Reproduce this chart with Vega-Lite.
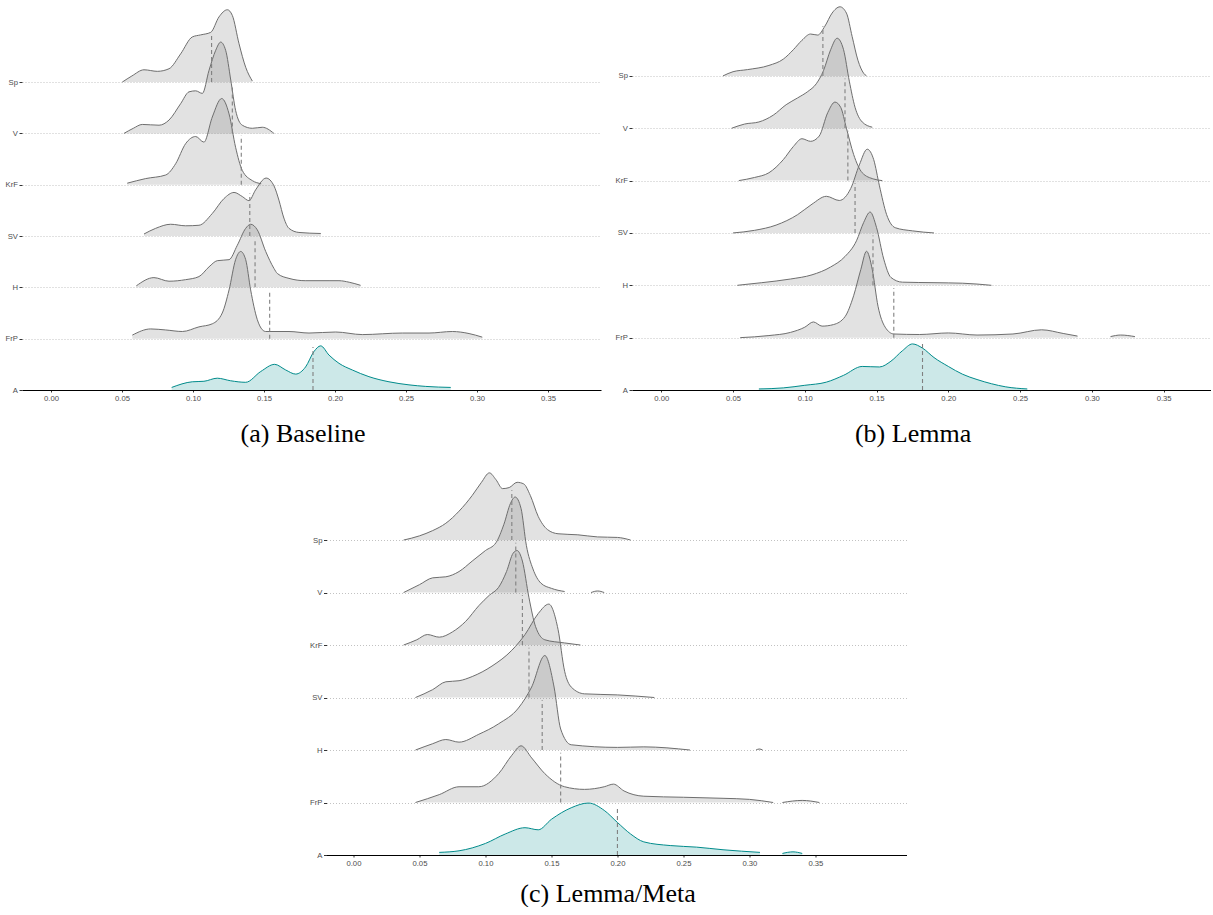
{
"$schema": "https://vega.github.io/schema/vega-lite/v6.json",
"background": "white",
"padding": {"left": 5, "top": 0, "right": 0, "bottom": 0},
"config": {"view": {"stroke": null}},
"datasets": {
"lv": [{"g":"A","b":1},{"g":"FrP","b":2},{"g":"H","b":3},{"g":"SV","b":4},{"g":"KrF","b":5},{"g":"V","b":6},{"g":"Sp","b":7}],
"m": [
{"p":"a","g":"Sp","x":0.1131,"t":7.94},{"p":"a","g":"V","x":0.1277,"t":6.94},{"p":"a","g":"KrF","x":0.134,"t":5.96},{"p":"a","g":"SV","x":0.140,"t":4.83},{"p":"a","g":"H","x":0.1437,"t":3.95},{"p":"a","g":"FrP","x":0.154,"t":2.95},{"p":"a","g":"A","x":0.1845,"t":1.84},
{"p":"b","g":"Sp","x":0.1126,"t":7.95},{"p":"b","g":"V","x":0.128,"t":6.95},{"p":"b","g":"KrF","x":0.130,"t":5.95},{"p":"b","g":"SV","x":0.135,"t":4.95},{"p":"b","g":"H","x":0.1475,"t":3.95},{"p":"b","g":"FrP","x":0.162,"t":2.95},{"p":"b","g":"A","x":0.182,"t":1.88},
{"p":"c","g":"Sp","x":0.12,"t":7.95},{"p":"c","g":"V","x":0.123,"t":6.95},{"p":"c","g":"KrF","x":0.128,"t":5.95},{"p":"c","g":"SV","x":0.133,"t":4.95},{"p":"c","g":"H","x":0.143,"t":3.95},{"p":"c","g":"FrP","x":0.157,"t":2.95},{"p":"c","g":"A","x":0.2,"t":1.9}
],
"a": [
{"g":"Sp","x":0.0502,"y":7.0},{"g":"Sp","x":0.057,"y":7.12},{"g":"Sp","x":0.0655,"y":7.24},{"g":"Sp","x":0.0749,"y":7.21},{"g":"Sp","x":0.0831,"y":7.26},{"g":"Sp","x":0.0913,"y":7.55},{"g":"Sp","x":0.0995,"y":7.88},{"g":"Sp","x":0.1054,"y":7.92},{"g":"Sp","x":0.1125,"y":7.97},{"g":"Sp","x":0.1183,"y":8.27},{"g":"Sp","x":0.1242,"y":8.41},{"g":"Sp","x":0.1277,"y":8.30},{"g":"Sp","x":0.1324,"y":7.75},{"g":"Sp","x":0.1371,"y":7.29},{"g":"Sp","x":0.1418,"y":7.02},
{"g":"V","x":0.0514,"y":6.0},{"g":"V","x":0.058,"y":6.1},{"g":"V","x":0.0643,"y":6.175},{"g":"V","x":0.0761,"y":6.16},{"g":"V","x":0.0831,"y":6.26},{"g":"V","x":0.0913,"y":6.58},{"g":"V","x":0.0972,"y":6.81},{"g":"V","x":0.1019,"y":6.83},{"g":"V","x":0.1066,"y":6.78},{"g":"V","x":0.1113,"y":7.23},{"g":"V","x":0.116,"y":7.62},{"g":"V","x":0.1195,"y":7.78},{"g":"V","x":0.123,"y":7.62},{"g":"V","x":0.1266,"y":7.04},{"g":"V","x":0.130,"y":6.45},{"g":"V","x":0.1347,"y":6.16},{"g":"V","x":0.1418,"y":6.10},{"g":"V","x":0.1488,"y":6.12},{"g":"V","x":0.157,"y":6.0},
{"g":"KrF","x":0.0537,"y":5.03},{"g":"KrF","x":0.0667,"y":5.12},{"g":"KrF","x":0.0808,"y":5.19},{"g":"KrF","x":0.0878,"y":5.41},{"g":"KrF","x":0.0948,"y":5.80},{"g":"KrF","x":0.1019,"y":5.94},{"g":"KrF","x":0.1077,"y":5.83},{"g":"KrF","x":0.1136,"y":6.32},{"g":"KrF","x":0.1202,"y":6.68},{"g":"KrF","x":0.1254,"y":6.38},{"g":"KrF","x":0.130,"y":5.73},{"g":"KrF","x":0.1347,"y":5.28},{"g":"KrF","x":0.1418,"y":5.08},{"g":"KrF","x":0.148,"y":5.02},
{"g":"SV","x":0.0655,"y":4.04},{"g":"SV","x":0.0737,"y":4.15},{"g":"SV","x":0.0843,"y":4.23},{"g":"SV","x":0.0948,"y":4.2},{"g":"SV","x":0.1042,"y":4.21},{"g":"SV","x":0.1136,"y":4.44},{"g":"SV","x":0.1218,"y":4.73},{"g":"SV","x":0.1289,"y":4.85},{"g":"SV","x":0.1347,"y":4.77},{"g":"SV","x":0.1394,"y":4.69},{"g":"SV","x":0.1441,"y":4.90},{"g":"SV","x":0.1515,"y":5.13},{"g":"SV","x":0.157,"y":4.98},{"g":"SV","x":0.1605,"y":4.7},{"g":"SV","x":0.164,"y":4.35},{"g":"SV","x":0.1676,"y":4.15},{"g":"SV","x":0.1746,"y":4.07},{"g":"SV","x":0.19,"y":4.05},
{"g":"H","x":0.0601,"y":3.03},{"g":"H","x":0.0725,"y":3.19},{"g":"H","x":0.0831,"y":3.12},{"g":"H","x":0.0948,"y":3.15},{"g":"H","x":0.1042,"y":3.21},{"g":"H","x":0.1113,"y":3.40},{"g":"H","x":0.1171,"y":3.52},{"g":"H","x":0.1254,"y":3.54},{"g":"H","x":0.1312,"y":3.82},{"g":"H","x":0.1371,"y":4.15},{"g":"H","x":0.1406,"y":4.23},{"g":"H","x":0.1453,"y":4.12},{"g":"H","x":0.1512,"y":3.70},{"g":"H","x":0.157,"y":3.37},{"g":"H","x":0.1594,"y":3.27},{"g":"H","x":0.1676,"y":3.175},{"g":"H","x":0.179,"y":3.13},{"g":"H","x":0.1958,"y":3.13},{"g":"H","x":0.2028,"y":3.13},{"g":"H","x":0.21,"y":3.1},{"g":"H","x":0.218,"y":3.04},
{"g":"FrP","x":0.0573,"y":2.07},{"g":"FrP","x":0.0702,"y":2.19},{"g":"FrP","x":0.0808,"y":2.17},{"g":"FrP","x":0.0925,"y":2.14},{"g":"FrP","x":0.1042,"y":2.23},{"g":"FrP","x":0.1136,"y":2.29},{"g":"FrP","x":0.1206,"y":2.50},{"g":"FrP","x":0.1254,"y":2.95},{"g":"FrP","x":0.130,"y":3.54},{"g":"FrP","x":0.1336,"y":3.70},{"g":"FrP","x":0.1371,"y":3.54},{"g":"FrP","x":0.1406,"y":2.95},{"g":"FrP","x":0.1453,"y":2.37},{"g":"FrP","x":0.1488,"y":2.175},{"g":"FrP","x":0.1512,"y":2.14},{"g":"FrP","x":0.1676,"y":2.14},{"g":"FrP","x":0.1817,"y":2.11},{"g":"FrP","x":0.2005,"y":2.13},{"g":"FrP","x":0.2192,"y":2.08},{"g":"FrP","x":0.2474,"y":2.11},{"g":"FrP","x":0.2662,"y":2.11},{"g":"FrP","x":0.2826,"y":2.14},{"g":"FrP","x":0.2944,"y":2.10},{"g":"FrP","x":0.3037,"y":2.03},
{"g":"A","x":0.085,"y":1.05},{"g":"A","x":0.0995,"y":1.16},{"g":"A","x":0.1077,"y":1.17},{"g":"A","x":0.1171,"y":1.23},{"g":"A","x":0.1265,"y":1.18},{"g":"A","x":0.1371,"y":1.15},{"g":"A","x":0.1477,"y":1.36},{"g":"A","x":0.1575,"y":1.50},{"g":"A","x":0.1653,"y":1.39},{"g":"A","x":0.1723,"y":1.31},{"g":"A","x":0.1793,"y":1.45},{"g":"A","x":0.1852,"y":1.75},{"g":"A","x":0.1899,"y":1.86},{"g":"A","x":0.1958,"y":1.68},{"g":"A","x":0.2028,"y":1.52},{"g":"A","x":0.2122,"y":1.39},{"g":"A","x":0.2239,"y":1.26},{"g":"A","x":0.238,"y":1.16},{"g":"A","x":0.2521,"y":1.10},{"g":"A","x":0.2639,"y":1.07},{"g":"A","x":0.2815,"y":1.05}
],
"b": [
{"g":"Sp","x":0.043,"y":7.0},{"g":"Sp","x":0.05,"y":7.08},{"g":"Sp","x":0.06,"y":7.12},{"g":"Sp","x":0.075,"y":7.2},{"g":"Sp","x":0.085,"y":7.32},{"g":"Sp","x":0.092,"y":7.5},{"g":"Sp","x":0.098,"y":7.68},{"g":"Sp","x":0.104,"y":7.8},{"g":"Sp","x":0.109,"y":7.78},{"g":"Sp","x":0.114,"y":7.95},{"g":"Sp","x":0.119,"y":8.2},{"g":"Sp","x":0.1245,"y":8.32},{"g":"Sp","x":0.129,"y":8.2},{"g":"Sp","x":0.133,"y":7.75},{"g":"Sp","x":0.137,"y":7.3},{"g":"Sp","x":0.141,"y":7.05},{"g":"Sp","x":0.143,"y":7.0},
{"g":"V","x":0.049,"y":6.0},{"g":"V","x":0.058,"y":6.08},{"g":"V","x":0.068,"y":6.12},{"g":"V","x":0.078,"y":6.25},{"g":"V","x":0.087,"y":6.45},{"g":"V","x":0.095,"y":6.58},{"g":"V","x":0.102,"y":6.7},{"g":"V","x":0.108,"y":6.85},{"g":"V","x":0.113,"y":7.1},{"g":"V","x":0.118,"y":7.5},{"g":"V","x":0.1225,"y":7.72},{"g":"V","x":0.127,"y":7.5},{"g":"V","x":0.131,"y":6.9},{"g":"V","x":0.135,"y":6.4},{"g":"V","x":0.14,"y":6.12},{"g":"V","x":0.147,"y":6.02},
{"g":"KrF","x":0.054,"y":5.0},{"g":"KrF","x":0.065,"y":5.06},{"g":"KrF","x":0.075,"y":5.15},{"g":"KrF","x":0.085,"y":5.4},{"g":"KrF","x":0.092,"y":5.65},{"g":"KrF","x":0.098,"y":5.8},{"g":"KrF","x":0.104,"y":5.75},{"g":"KrF","x":0.11,"y":5.85},{"g":"KrF","x":0.116,"y":6.3},{"g":"KrF","x":0.121,"y":6.5},{"g":"KrF","x":0.125,"y":6.4},{"g":"KrF","x":0.129,"y":6.0},{"g":"KrF","x":0.134,"y":5.5},{"g":"KrF","x":0.14,"y":5.15},{"g":"KrF","x":0.148,"y":5.03},{"g":"KrF","x":0.154,"y":5.0},
{"g":"SV","x":0.05,"y":4.0},{"g":"SV","x":0.065,"y":4.05},{"g":"SV","x":0.08,"y":4.15},{"g":"SV","x":0.095,"y":4.35},{"g":"SV","x":0.105,"y":4.55},{"g":"SV","x":0.115,"y":4.7},{"g":"SV","x":0.124,"y":4.62},{"g":"SV","x":0.132,"y":4.85},{"g":"SV","x":0.138,"y":5.3},{"g":"SV","x":0.1435,"y":5.6},{"g":"SV","x":0.148,"y":5.4},{"g":"SV","x":0.152,"y":4.9},{"g":"SV","x":0.157,"y":4.35},{"g":"SV","x":0.163,"y":4.1},{"g":"SV","x":0.175,"y":4.04},{"g":"SV","x":0.19,"y":4.0},
{"g":"H","x":0.053,"y":3.0},{"g":"H","x":0.07,"y":3.05},{"g":"H","x":0.09,"y":3.12},{"g":"H","x":0.105,"y":3.2},{"g":"H","x":0.118,"y":3.35},{"g":"H","x":0.128,"y":3.55},{"g":"H","x":0.136,"y":3.85},{"g":"H","x":0.141,"y":4.2},{"g":"H","x":0.1455,"y":4.4},{"g":"H","x":0.15,"y":4.1},{"g":"H","x":0.155,"y":3.5},{"g":"H","x":0.16,"y":3.15},{"g":"H","x":0.168,"y":3.06},{"g":"H","x":0.19,"y":3.05},{"g":"H","x":0.21,"y":3.04},{"g":"H","x":0.23,"y":3.0},
{"g":"FrP","x":0.055,"y":2.0},{"g":"FrP","x":0.075,"y":2.04},{"g":"FrP","x":0.09,"y":2.1},{"g":"FrP","x":0.1,"y":2.2},{"g":"FrP","x":0.106,"y":2.3},{"g":"FrP","x":0.112,"y":2.22},{"g":"FrP","x":0.12,"y":2.25},{"g":"FrP","x":0.128,"y":2.4},{"g":"FrP","x":0.134,"y":2.8},{"g":"FrP","x":0.139,"y":3.3},{"g":"FrP","x":0.143,"y":3.65},{"g":"FrP","x":0.147,"y":3.3},{"g":"FrP","x":0.151,"y":2.6},{"g":"FrP","x":0.156,"y":2.2},{"g":"FrP","x":0.162,"y":2.07},{"g":"FrP","x":0.18,"y":2.06},{"g":"FrP","x":0.2,"y":2.09},{"g":"FrP","x":0.22,"y":2.05},{"g":"FrP","x":0.245,"y":2.07},{"g":"FrP","x":0.265,"y":2.15},{"g":"FrP","x":0.28,"y":2.08},{"g":"FrP","x":0.29,"y":2.03},
{"g":"FrP","s":"2","x":0.313,"y":2.02},{"g":"FrP","s":"2","x":0.32,"y":2.05},{"g":"FrP","s":"2","x":0.33,"y":2.02},
{"g":"A","x":0.068,"y":1.02},{"g":"A","x":0.085,"y":1.04},{"g":"A","x":0.1,"y":1.09},{"g":"A","x":0.115,"y":1.15},{"g":"A","x":0.127,"y":1.28},{"g":"A","x":0.14,"y":1.45},{"g":"A","x":0.152,"y":1.44},{"g":"A","x":0.16,"y":1.55},{"g":"A","x":0.168,"y":1.75},{"g":"A","x":0.175,"y":1.88},{"g":"A","x":0.182,"y":1.8},{"g":"A","x":0.19,"y":1.62},{"g":"A","x":0.2,"y":1.45},{"g":"A","x":0.21,"y":1.3},{"g":"A","x":0.22,"y":1.2},{"g":"A","x":0.23,"y":1.12},{"g":"A","x":0.24,"y":1.06},{"g":"A","x":0.255,"y":1.02}
],
"c": [
{"g":"Sp","x":0.038,"y":7.0},{"g":"Sp","x":0.05,"y":7.08},{"g":"Sp","x":0.06,"y":7.18},{"g":"Sp","x":0.07,"y":7.32},{"g":"Sp","x":0.08,"y":7.55},{"g":"Sp","x":0.09,"y":7.85},{"g":"Sp","x":0.097,"y":8.1},{"g":"Sp","x":0.103,"y":8.28},{"g":"Sp","x":0.108,"y":8.15},{"g":"Sp","x":0.113,"y":7.98},{"g":"Sp","x":0.118,"y":8.0},{"g":"Sp","x":0.124,"y":8.1},{"g":"Sp","x":0.129,"y":8.07},{"g":"Sp","x":0.134,"y":7.85},{"g":"Sp","x":0.14,"y":7.45},{"g":"Sp","x":0.147,"y":7.2},{"g":"Sp","x":0.155,"y":7.12},{"g":"Sp","x":0.17,"y":7.1},{"g":"Sp","x":0.185,"y":7.06},{"g":"Sp","x":0.2,"y":7.05},{"g":"Sp","x":0.21,"y":7.0},
{"g":"V","x":0.038,"y":6.0},{"g":"V","x":0.05,"y":6.15},{"g":"V","x":0.06,"y":6.28},{"g":"V","x":0.07,"y":6.3},{"g":"V","x":0.08,"y":6.4},{"g":"V","x":0.09,"y":6.6},{"g":"V","x":0.1,"y":6.8},{"g":"V","x":0.108,"y":6.95},{"g":"V","x":0.114,"y":7.3},{"g":"V","x":0.119,"y":7.7},{"g":"V","x":0.1225,"y":7.82},{"g":"V","x":0.127,"y":7.6},{"g":"V","x":0.131,"y":6.9},{"g":"V","x":0.136,"y":6.45},{"g":"V","x":0.142,"y":6.18},{"g":"V","x":0.15,"y":6.08},{"g":"V","x":0.16,"y":6.02},
{"g":"V","s":"2","x":0.18,"y":6.0},{"g":"V","s":"2","x":0.185,"y":6.03},{"g":"V","s":"2","x":0.19,"y":6.0},
{"g":"KrF","x":0.038,"y":5.0},{"g":"KrF","x":0.048,"y":5.1},{"g":"KrF","x":0.056,"y":5.2},{"g":"KrF","x":0.065,"y":5.15},{"g":"KrF","x":0.075,"y":5.25},{"g":"KrF","x":0.085,"y":5.45},{"g":"KrF","x":0.095,"y":5.75},{"g":"KrF","x":0.103,"y":5.95},{"g":"KrF","x":0.11,"y":6.1},{"g":"KrF","x":0.116,"y":6.4},{"g":"KrF","x":0.121,"y":6.75},{"g":"KrF","x":0.124,"y":6.8},{"g":"KrF","x":0.128,"y":6.6},{"g":"KrF","x":0.133,"y":5.9},{"g":"KrF","x":0.138,"y":5.35},{"g":"KrF","x":0.145,"y":5.1},{"g":"KrF","x":0.16,"y":5.04},{"g":"KrF","x":0.172,"y":5.0},
{"g":"SV","x":0.047,"y":4.0},{"g":"SV","x":0.06,"y":4.15},{"g":"SV","x":0.07,"y":4.3},{"g":"SV","x":0.08,"y":4.32},{"g":"SV","x":0.09,"y":4.4},{"g":"SV","x":0.105,"y":4.6},{"g":"SV","x":0.12,"y":4.9},{"g":"SV","x":0.13,"y":5.2},{"g":"SV","x":0.14,"y":5.6},{"g":"SV","x":0.148,"y":5.78},{"g":"SV","x":0.155,"y":5.3},{"g":"SV","x":0.16,"y":4.5},{"g":"SV","x":0.165,"y":4.2},{"g":"SV","x":0.175,"y":4.07},{"g":"SV","x":0.2,"y":4.05},{"g":"SV","x":0.228,"y":4.0},
{"g":"H","x":0.047,"y":3.0},{"g":"H","x":0.06,"y":3.12},{"g":"H","x":0.07,"y":3.2},{"g":"H","x":0.08,"y":3.15},{"g":"H","x":0.095,"y":3.3},{"g":"H","x":0.11,"y":3.5},{"g":"H","x":0.125,"y":3.8},{"g":"H","x":0.135,"y":4.2},{"g":"H","x":0.145,"y":4.8},{"g":"H","x":0.152,"y":4.2},{"g":"H","x":0.157,"y":3.4},{"g":"H","x":0.165,"y":3.1},{"g":"H","x":0.2,"y":3.05},{"g":"H","x":0.22,"y":3.06},{"g":"H","x":0.255,"y":3.0},
{"g":"H","s":"2","x":0.305,"y":3.0},{"g":"H","s":"2","x":0.3075,"y":3.02},{"g":"H","s":"2","x":0.31,"y":3.0},
{"g":"FrP","x":0.047,"y":2.0},{"g":"FrP","x":0.065,"y":2.15},{"g":"FrP","x":0.08,"y":2.3},{"g":"FrP","x":0.095,"y":2.3},{"g":"FrP","x":0.11,"y":2.55},{"g":"FrP","x":0.12,"y":2.9},{"g":"FrP","x":0.127,"y":3.08},{"g":"FrP","x":0.135,"y":2.85},{"g":"FrP","x":0.145,"y":2.55},{"g":"FrP","x":0.16,"y":2.3},{"g":"FrP","x":0.175,"y":2.25},{"g":"FrP","x":0.19,"y":2.3},{"g":"FrP","x":0.197,"y":2.35},{"g":"FrP","x":0.205,"y":2.22},{"g":"FrP","x":0.22,"y":2.12},{"g":"FrP","x":0.25,"y":2.1},{"g":"FrP","x":0.28,"y":2.08},{"g":"FrP","x":0.3,"y":2.06},{"g":"FrP","x":0.318,"y":2.0},
{"g":"FrP","s":"2","x":0.325,"y":2.0},{"g":"FrP","s":"2","x":0.34,"y":2.04},{"g":"FrP","s":"2","x":0.353,"y":2.0},
{"g":"A","x":0.065,"y":1.05},{"g":"A","x":0.08,"y":1.08},{"g":"A","x":0.1,"y":1.22},{"g":"A","x":0.115,"y":1.4},{"g":"A","x":0.13,"y":1.52},{"g":"A","x":0.14,"y":1.48},{"g":"A","x":0.15,"y":1.68},{"g":"A","x":0.165,"y":1.9},{"g":"A","x":0.178,"y":1.99},{"g":"A","x":0.19,"y":1.85},{"g":"A","x":0.2,"y":1.62},{"g":"A","x":0.21,"y":1.4},{"g":"A","x":0.22,"y":1.25},{"g":"A","x":0.24,"y":1.18},{"g":"A","x":0.26,"y":1.15},{"g":"A","x":0.28,"y":1.1},{"g":"A","x":0.308,"y":1.05},
{"g":"A","s":"2","x":0.325,"y":1.03},{"g":"A","s":"2","x":0.333,"y":1.06},{"g":"A","s":"2","x":0.34,"y":1.03}
]
},
"vconcat": [
{"hconcat": [
{"width": 579, "height": 390,
 "title": {"text": "(a) Baseline", "orient": "bottom", "anchor": "middle", "frame": "bounds", "font": "Liberation Serif", "fontSize": 26, "fontWeight": "normal", "color": "black", "offset": 19},
 "layer": [
  {"data": {"name": "a"},
   "transform": [{"lookup": "g", "from": {"data": {"name": "lv"}, "key": "g", "fields": ["b"]}}],
   "mark": {"type": "area", "interpolate": "monotone", "fillOpacity": 0.2, "line": {"strokeWidth": 1}},
   "encoding": {
    "x": {"field": "x", "type": "quantitative", "scale": {"domain": [-0.0204, 0.3873], "nice": false, "zero": false}, "axis": {"values": [0,0.05,0.1,0.15,0.2,0.25,0.3,0.35], "format": ".2f", "title": null, "grid": false, "domainColor": "black", "domainWidth": 1.2, "tickSize": 2, "tickColor": "#333333", "labelFont": "Liberation Sans", "labelFontSize": 7.7, "labelColor": "#4d4d4d", "labelPadding": 2}},
    "y": {"field": "y", "type": "quantitative", "scale": {"domain": [1, 8.6], "nice": false, "zero": false}, "axis": {"values": [1,2,3,4,5,6,7], "labelExpr": "['','A','FrP','H','SV','KrF','V','Sp'][datum.value]", "title": null, "domain": false, "grid": true, "gridDash": [1,2], "gridColor": "#b3b3b3", "gridWidth": 0.8, "tickSize": 3, "tickColor": "#333333", "labelFont": "Liberation Sans", "labelFontSize": 7.7, "labelColor": "#4d4d4d", "labelPadding": 1.5}},
    "y2": {"field": "b"},
    "color": {"field": "g", "type": "nominal", "scale": {"domain": ["Sp","V","KrF","SV","H","FrP","A"], "range": ["#6e6e6e","#6e6e6e","#6e6e6e","#6e6e6e","#6e6e6e","#6e6e6e","#008b8b"]}, "legend": null},
    "detail": {"field": "s"}
   }},
  {"data": {"name": "m"},
   "transform": [{"filter": "datum.p == 'a'"}, {"lookup": "g", "from": {"data": {"name": "lv"}, "key": "g", "fields": ["b"]}}],
   "mark": {"type": "rule", "strokeDash": [4,3], "color": "#808080", "strokeWidth": 1.1},
   "encoding": {
    "x": {"field": "x", "type": "quantitative", "scale": {"domain": [-0.0204, 0.3873], "nice": false, "zero": false}},
    "y": {"field": "b", "type": "quantitative", "scale": {"domain": [1, 8.6], "nice": false, "zero": false}},
    "y2": {"field": "t"}
   }}
 ]},
{"width": 579, "height": 390,
 "title": {"text": "(b) Lemma", "orient": "bottom", "anchor": "middle", "frame": "bounds", "font": "Liberation Serif", "fontSize": 26, "fontWeight": "normal", "color": "black", "offset": 19},
 "layer": [
  {"data": {"name": "b"},
   "transform": [{"lookup": "g", "from": {"data": {"name": "lv"}, "key": "g", "fields": ["b"]}}],
   "mark": {"type": "area", "interpolate": "monotone", "fillOpacity": 0.2, "line": {"strokeWidth": 1}},
   "encoding": {
    "x": {"field": "x", "type": "quantitative", "scale": {"domain": [-0.0204, 0.3830], "nice": false, "zero": false}, "axis": {"values": [0,0.05,0.1,0.15,0.2,0.25,0.3,0.35], "format": ".2f", "title": null, "grid": false, "domainColor": "black", "domainWidth": 1.2, "tickSize": 2, "tickColor": "#333333", "labelFont": "Liberation Sans", "labelFontSize": 7.7, "labelColor": "#4d4d4d", "labelPadding": 2}},
    "y": {"field": "y", "type": "quantitative", "scale": {"domain": [1, 8.45], "nice": false, "zero": false}, "axis": {"values": [1,2,3,4,5,6,7], "labelExpr": "['','A','FrP','H','SV','KrF','V','Sp'][datum.value]", "title": null, "domain": false, "grid": true, "gridDash": [1,2], "gridColor": "#b3b3b3", "gridWidth": 0.8, "tickSize": 3, "tickColor": "#333333", "labelFont": "Liberation Sans", "labelFontSize": 7.7, "labelColor": "#4d4d4d", "labelPadding": 1.5}},
    "y2": {"field": "b"},
    "color": {"field": "g", "type": "nominal", "scale": {"domain": ["Sp","V","KrF","SV","H","FrP","A"], "range": ["#6e6e6e","#6e6e6e","#6e6e6e","#6e6e6e","#6e6e6e","#6e6e6e","#008b8b"]}, "legend": null},
    "detail": {"field": "s"}
   }},
  {"data": {"name": "m"},
   "transform": [{"filter": "datum.p == 'b'"}, {"lookup": "g", "from": {"data": {"name": "lv"}, "key": "g", "fields": ["b"]}}],
   "mark": {"type": "rule", "strokeDash": [4,3], "color": "#808080", "strokeWidth": 1.1},
   "encoding": {
    "x": {"field": "x", "type": "quantitative", "scale": {"domain": [-0.0204, 0.3830], "nice": false, "zero": false}},
    "y": {"field": "b", "type": "quantitative", "scale": {"domain": [1, 8.45], "nice": false, "zero": false}},
    "y2": {"field": "t"}
   }}
 ]}
], "spacing": 14},
{"width": 580, "height": 390,
 "title": {"text": "(c) Lemma/Meta", "orient": "bottom", "anchor": "middle", "frame": "bounds", "font": "Liberation Serif", "fontSize": 26, "fontWeight": "normal", "color": "black", "offset": 14},
 "layer": [
  {"data": {"name": "c"},
   "transform": [{"lookup": "g", "from": {"data": {"name": "lv"}, "key": "g", "fields": ["b"]}}],
   "mark": {"type": "area", "interpolate": "monotone", "fillOpacity": 0.2, "line": {"strokeWidth": 1}},
   "encoding": {
    "x": {"field": "x", "type": "quantitative", "scale": {"domain": [-0.0204, 0.419], "nice": false, "zero": false}, "axis": {"values": [0,0.05,0.1,0.15,0.2,0.25,0.3,0.35], "format": ".2f", "title": null, "grid": false, "domainColor": "black", "domainWidth": 1.2, "tickSize": 2, "tickColor": "#333333", "labelFont": "Liberation Sans", "labelFontSize": 7.7, "labelColor": "#4d4d4d", "labelPadding": 2}},
    "y": {"field": "y", "type": "quantitative", "scale": {"domain": [1, 8.43], "nice": false, "zero": false}, "axis": {"values": [1,2,3,4,5,6,7], "labelExpr": "['','A','FrP','H','SV','KrF','V','Sp'][datum.value]", "title": null, "domain": false, "grid": true, "gridDash": [1,2], "gridColor": "#b3b3b3", "gridWidth": 0.8, "tickSize": 3, "tickColor": "#333333", "labelFont": "Liberation Sans", "labelFontSize": 7.7, "labelColor": "#4d4d4d", "labelPadding": 1.5}},
    "y2": {"field": "b"},
    "color": {"field": "g", "type": "nominal", "scale": {"domain": ["Sp","V","KrF","SV","H","FrP","A"], "range": ["#6e6e6e","#6e6e6e","#6e6e6e","#6e6e6e","#6e6e6e","#6e6e6e","#008b8b"]}, "legend": null},
    "detail": {"field": "s"}
   }},
  {"data": {"name": "m"},
   "transform": [{"filter": "datum.p == 'c'"}, {"lookup": "g", "from": {"data": {"name": "lv"}, "key": "g", "fields": ["b"]}}],
   "mark": {"type": "rule", "strokeDash": [4,3], "color": "#808080", "strokeWidth": 1.1},
   "encoding": {
    "x": {"field": "x", "type": "quantitative", "scale": {"domain": [-0.0204, 0.419], "nice": false, "zero": false}},
    "y": {"field": "b", "type": "quantitative", "scale": {"domain": [1, 8.43], "nice": false, "zero": false}},
    "y2": {"field": "t"}
   }}
 ]}
],
"spacing": 18,
"center": true
}
